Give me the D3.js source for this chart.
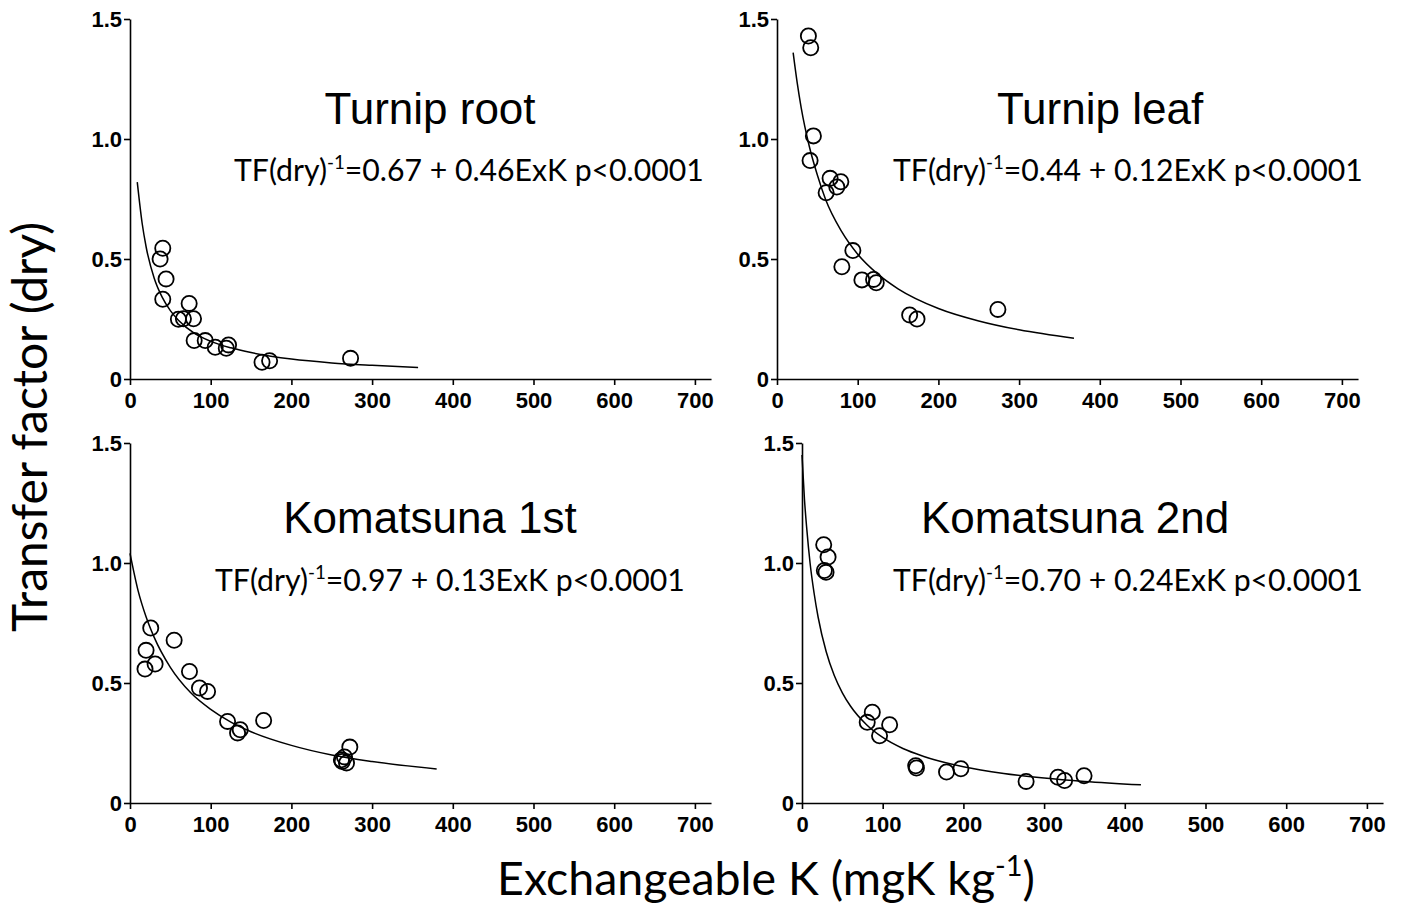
<!DOCTYPE html>
<html>
<head>
<meta charset="utf-8">
<script src="https://cdn.jsdelivr.net/npm/d3@7"></script>
<style>
  html, body { margin: 0; padding: 0; background: #fff; }
  svg { display: block; }
</style>
</head>
<body>
<svg id="chart" width="1411" height="910"></svg>
<script>
// ---------------- DATA ----------------
const panelTitles = ["Turnip root", "Turnip leaf", "Komatsuna 1st", "Komatsuna 2nd"];
const intercepts = ["0.67", "0.44", "0.97", "0.70"];
const slopes = ["0.46", "0.12", "0.13", "0.24"];
const pValues = ["p<0.0001", "p<0.0001", "p<0.0001", "p<0.0001"];

const xTicks = [0, 100, 200, 300, 400, 500, 600, 700];
const yTicks = [0, 0.5, 1.0, 1.5];
const yTickLabels = ["0", "0.5", "1.0", "1.5"];

// Turnip root observations (ExK, TF dry)
const rootExK = [40.6, 37.3, 44.7, 40.6, 73.3, 60, 66.2, 78.7, 79.5, 93.2, 105.6, 119.3, 122.1, 163.6, 173, 273.3];
const rootTF  = [0.545, 0.50, 0.417, 0.332, 0.315, 0.249, 0.251, 0.251, 0.16, 0.16, 0.132, 0.128, 0.142, 0.07, 0.076, 0.086];
// Turnip leaf observations
const leafExK = [38.9, 41.8, 45.1, 41, 65.8, 60.9, 74.1, 79.1, 94, 80.4, 105.2, 119.7, 123, 164.4, 173.5, 273.7];
const leafTF  = [1.429, 1.38, 1.013, 0.91, 0.836, 0.776, 0.80, 0.822, 0.535, 0.468, 0.413, 0.415, 0.401, 0.267, 0.25, 0.29];
// Komatsuna 1st observations
const kom1ExK = [25.7, 19.9, 18.6, 31.1, 54.7, 73.7, 86.1, 96.1, 120.9, 133.3, 136.6, 165.6, 263, 265.8, 268.3, 272.4, 262];
const kom1TF  = [0.729, 0.636, 0.558, 0.579, 0.678, 0.548, 0.479, 0.465, 0.34, 0.292, 0.305, 0.344, 0.173, 0.192, 0.167, 0.233, 0.18];
// Komatsuna 2nd observations
const kom2ExK = [26.9, 32.3, 27.7, 29.8, 87.1, 80.8, 108.6, 96.1, 140.9, 141.8, 179.1, 196.9, 277.7, 317.2, 325.4, 349.5];
const kom2TF  = [1.076, 1.025, 0.969, 0.961, 0.378, 0.336, 0.326, 0.28, 0.155, 0.146, 0.129, 0.143, 0.09, 0.107, 0.094, 0.114];

// Fitted curves
const rootFitX = [9, 15, 20, 30, 40, 50, 60, 80, 100, 125, 150, 200, 250, 300, 357];
const rootFitY = [0.82, 0.65, 0.55, 0.42, 0.34, 0.285, 0.245, 0.19, 0.157, 0.13, 0.11, 0.083, 0.067, 0.057, 0.048];
const leafFitX = [20, 25, 30, 40, 50, 60, 80, 100, 125, 150, 200, 250, 300, 368];
const leafFitY = [1.36, 1.235, 1.13, 0.97, 0.85, 0.75, 0.615, 0.52, 0.437, 0.376, 0.294, 0.242, 0.205, 0.17];
const kom1FitX = [0, 10, 20, 30, 50, 75, 100, 125, 150, 200, 250, 300, 380];
const kom1FitY = [1.04, 0.885, 0.775, 0.69, 0.565, 0.46, 0.39, 0.337, 0.297, 0.24, 0.2, 0.173, 0.142];
const kom2FitX = [0, 3, 6, 10, 15, 20, 30, 40, 50, 60, 80, 100, 125, 150, 200, 250, 300, 350, 420];
const kom2FitY = [1.45, 1.268, 1.139, 1.0, 0.874, 0.774, 0.63, 0.531, 0.459, 0.404, 0.326, 0.273, 0.227, 0.195, 0.151, 0.123, 0.104, 0.09, 0.076];

const obsX = [rootExK, leafExK, kom1ExK, kom2ExK];
const obsY = [rootTF, leafTF, kom1TF, kom2TF];
const fitX = [rootFitX, leafFitX, kom1FitX, kom2FitX];
const fitY = [rootFitY, leafFitY, kom1FitY, kom2FitY];

// ---------------- LAYOUT ----------------
const svg = d3.select("#chart");
const pxPer100 = 80.7;
const layout = [
  { x0: 130, bottom: 379, titleX: 430, titleY: 124, eqX: 234, eqY: 181 },
  { x0: 777, bottom: 379, titleX: 1100, titleY: 124, eqX: 893, eqY: 181 },
  { x0: 130, bottom: 803, titleX: 430, titleY: 533, eqX: 215, eqY: 591 },
  { x0: 802, bottom: 803, titleX: 1075, titleY: 533, eqX: 893, eqY: 591 }
];
const eqWidth = 470;
const tickFont = "'Liberation Sans', Arial, sans-serif";
const calFont = "Lato, 'Open Sans', sans-serif";

function fitFont(textSel, baseSize, target) {
  const w = textSel.node().getBBox().width;
  return baseSize * target / w;
}

function buildSupText(g, parts, fs) {
  g.selectAll("tspan").remove();
  g.attr("font-size", fs);
  g.append("tspan").text(parts[0]);
  g.append("tspan").attr("font-size", fs * 0.62).attr("dy", -fs * 0.40).text(parts[1]);
  g.append("tspan").attr("dy", fs * 0.40).text(parts[2]);
}

layout.forEach((L, i) => {
  const g = svg.append("g");
  const x = d3.scaleLinear().domain([0, 720]).range([L.x0, L.x0 + 7.2 * pxPer100]);
  const y = d3.scaleLinear().domain([0, 1.5]).range([L.bottom, L.bottom - 360]);

  const xAxis = d3.axisBottom(x).tickValues(xTicks).tickFormat(d3.format("d"))
    .tickSize(6).tickSizeOuter(0).tickPadding(7);
  const yAxis = d3.axisLeft(y).tickValues(yTicks).tickFormat((d, j) => yTickLabels[j])
    .tickSize(6).tickSizeOuter(0).tickPadding(2);

  const gx = g.append("g").attr("transform", `translate(0,${L.bottom})`).call(xAxis);
  const gy = g.append("g").attr("transform", `translate(${L.x0},0)`).call(yAxis);
  [gx, gy].forEach(a => {
    a.select(".domain").attr("stroke", "#000").attr("stroke-width", 1.6);
    a.selectAll(".tick line").attr("stroke", "#000").attr("stroke-width", 1.6);
    a.selectAll(".tick text").attr("fill", "#000")
      .attr("font-family", tickFont).attr("font-weight", "bold").attr("font-size", 22);
  });

  const pts = fitX[i].map((v, j) => [v, fitY[i][j]]);
  g.append("path")
    .datum(pts)
    .attr("fill", "none").attr("stroke", "#000").attr("stroke-width", 1.5)
    .attr("d", d3.line().x(d => x(d[0])).y(d => y(d[1])).curve(d3.curveMonotoneX));

  g.selectAll("circle.obs")
    .data(obsX[i].map((v, j) => [v, obsY[i][j]]))
    .join("circle").attr("class", "obs")
    .attr("cx", d => x(d[0])).attr("cy", d => y(d[1])).attr("r", 7.6)
    .attr("fill", "none").attr("stroke", "#000").attr("stroke-width", 1.8);

  g.append("text")
    .attr("x", L.titleX).attr("y", L.titleY).attr("text-anchor", "middle")
    .attr("font-family", tickFont).attr("font-size", 44).attr("fill", "#000")
    .text(panelTitles[i]);

  const eq = g.append("text")
    .attr("x", L.eqX).attr("y", L.eqY)
    .attr("font-family", calFont).attr("fill", "#000");
  const parts = ["TF(dry)", "-1", `=${intercepts[i]} + ${slopes[i]}ExK ${pValues[i]}`];
  buildSupText(eq, parts, 30);
  buildSupText(eq, parts, fitFont(eq, 30, eqWidth));
});

const yt = svg.append("text")
  .attr("transform", "translate(47,427) rotate(-90)")
  .attr("text-anchor", "middle")
  .attr("font-family", calFont).attr("font-size", 44).attr("fill", "#000")
  .text("Transfer factor (dry)");
yt.attr("font-size", fitFont(yt, 44, 410));

const xt = svg.append("text")
  .attr("x", 766).attr("y", 895).attr("text-anchor", "middle")
  .attr("font-family", calFont).attr("fill", "#000");
const xParts = ["Exchangeable K (mgK kg", "-1", ")"];
buildSupText(xt, xParts, 44);
buildSupText(xt, xParts, fitFont(xt, 44, 538));
</script>
</body>
</html>
